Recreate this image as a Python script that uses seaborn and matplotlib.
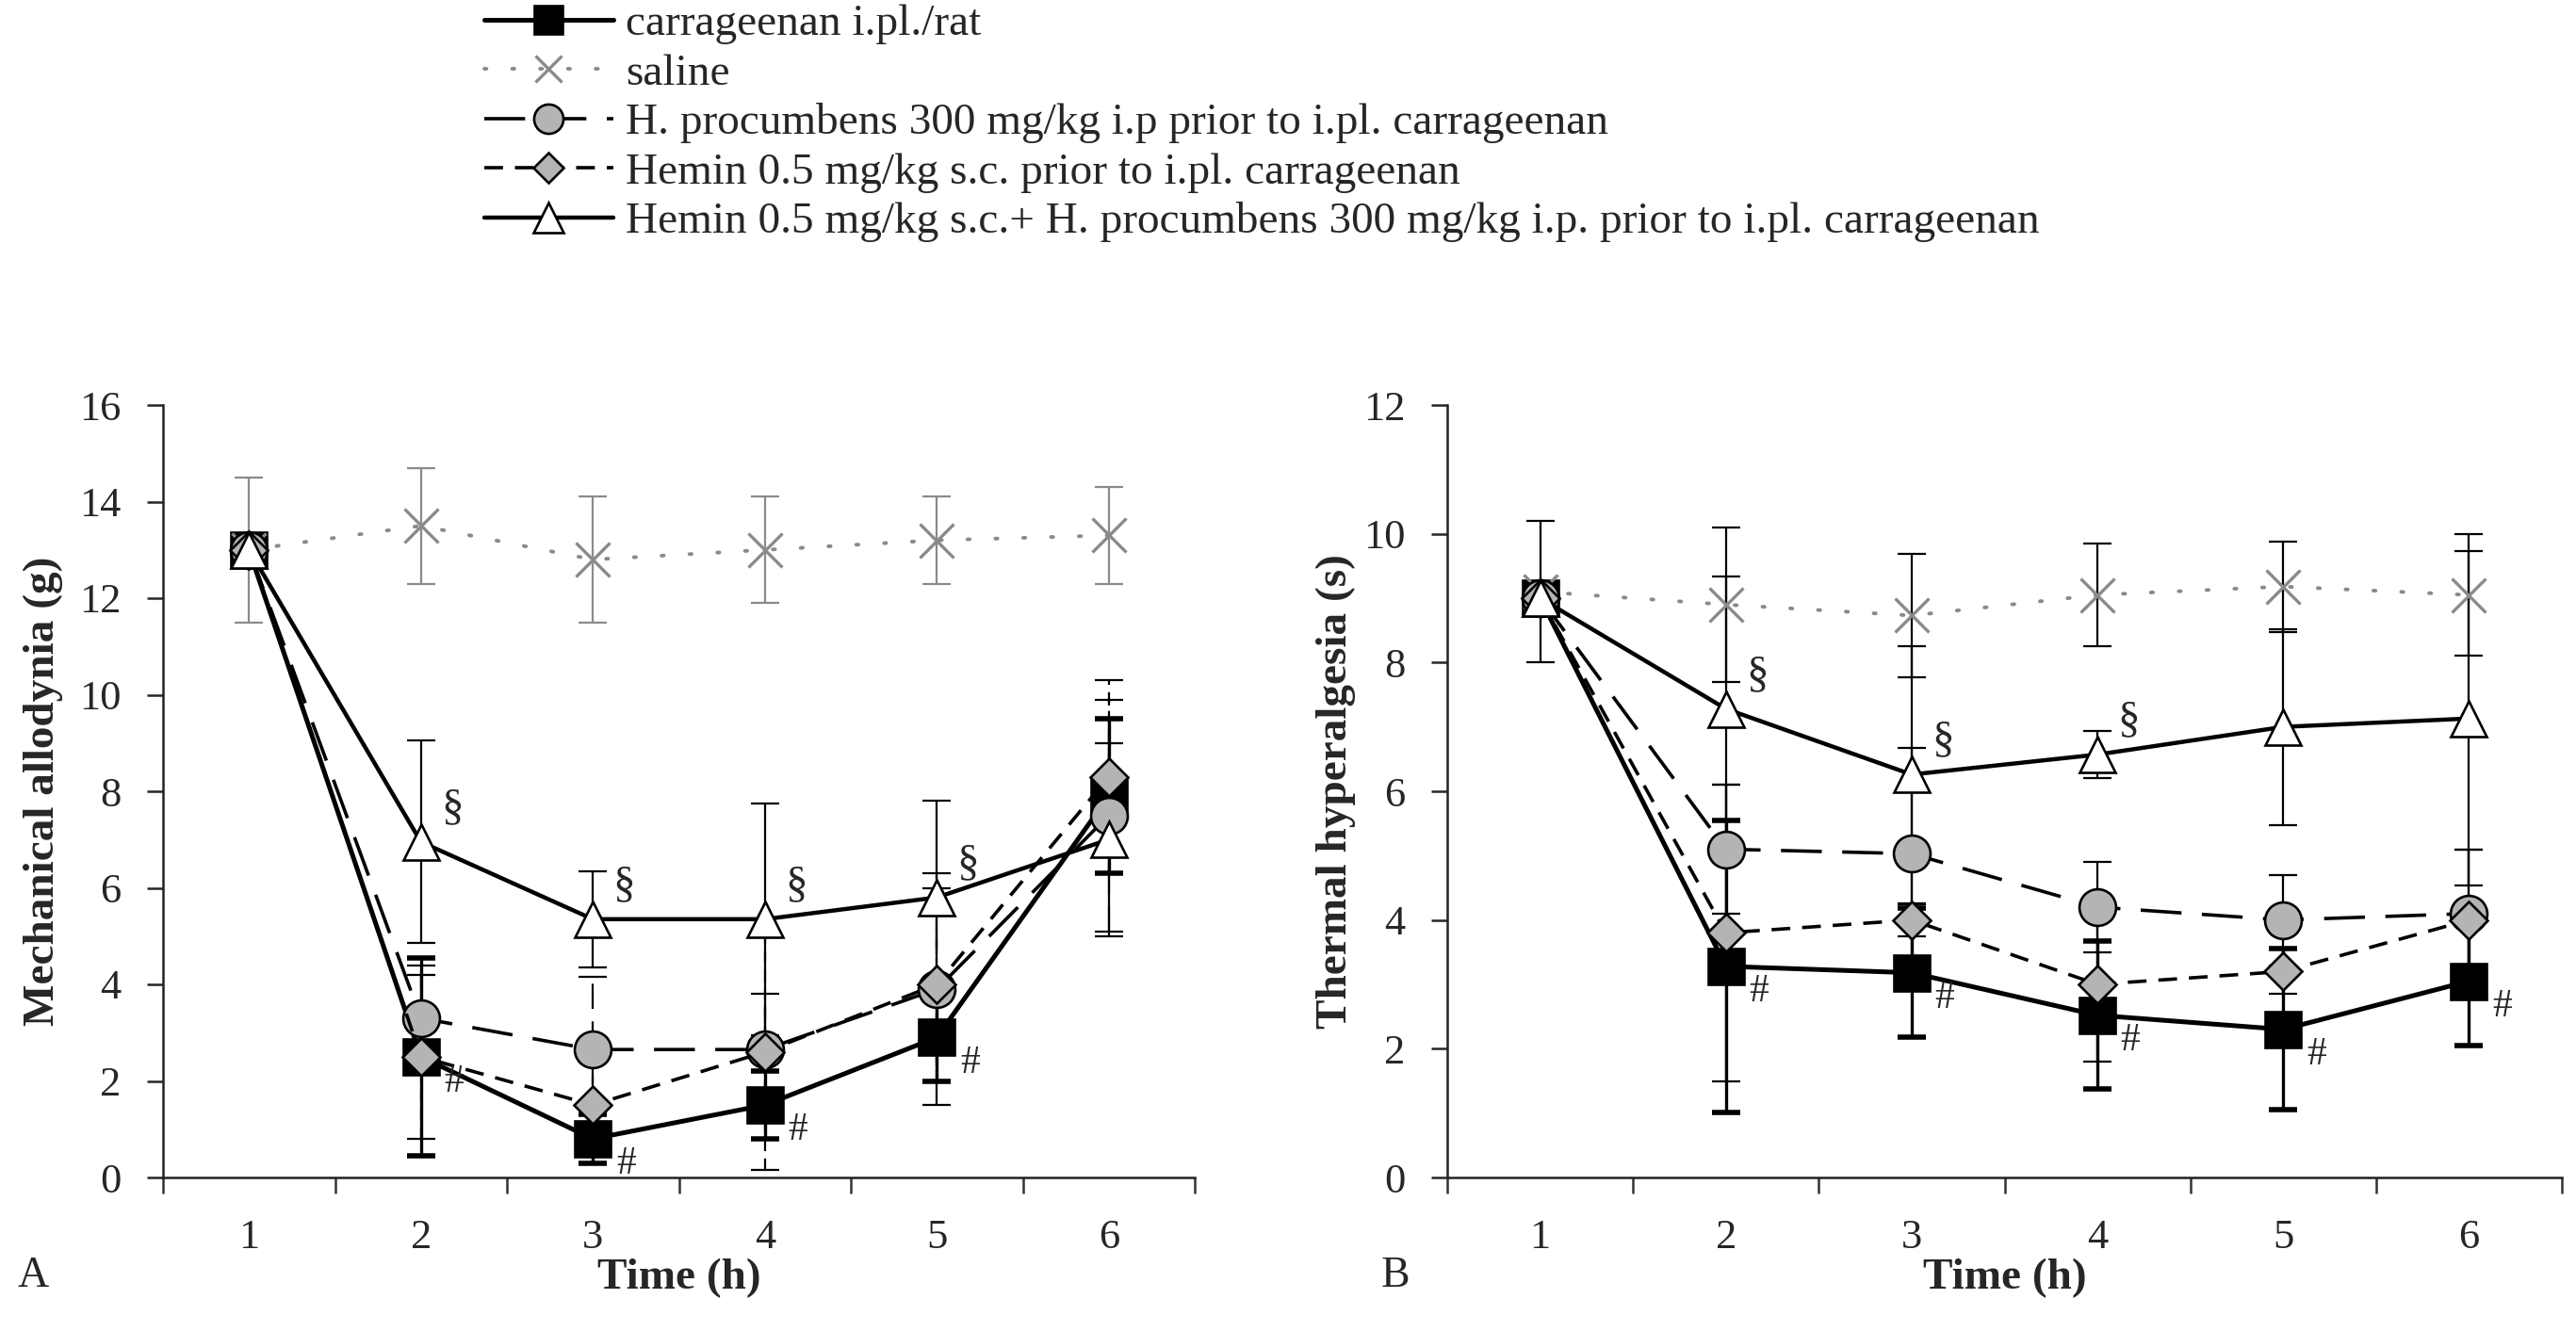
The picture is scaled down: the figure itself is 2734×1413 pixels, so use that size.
import numpy as np
import pandas as pd
import matplotlib
matplotlib.use('Agg')
import matplotlib.pyplot as plt
import seaborn as sns

# time points (h)
time = [1, 2, 3, 4, 5, 6]

# panel A - mechanical allodynia (g)
mech_carr = [13.0, 2.5, 0.8, 1.5, 2.9, 7.9]
mech_carr_err = [0.0, 2.05, 0.5, 0.7, 0.9, 1.6]
mech_saline = [13.0, 13.5, 12.8, 13.0, 13.2, 13.3]
mech_saline_err = [1.5, 1.2, 1.3, 1.1, 0.9, 1.0]
mech_hp = [13.0, 3.3, 2.65, 2.65, 3.9, 7.5]
mech_hp_err = [0.0, 1.1, 1.5, 1.15, 2.4, 2.4]
mech_hemin = [13.0, 2.5, 1.5, 2.6, 4.0, 8.3]
mech_hemin_err = [0.0, 1.7, 1.2, 2.45, 2.0, 2.0]
mech_combo = [13.0, 6.95, 5.35, 5.35, 5.8, 7.0]
mech_combo_err = [0.0, 2.1, 1.0, 2.4, 2.0, 2.0]

# panel B - thermal hyperalgesia (s)
therm_carr = [9.0, 3.28, 3.18, 2.52, 2.3, 3.05]
therm_carr_err = [0.0, 2.27, 1.0, 1.15, 1.25, 1.0]
therm_saline = [9.1, 8.9, 8.73, 9.05, 9.18, 9.05]
therm_saline_err = [1.1, 1.2, 0.96, 0.8, 0.7, 0.95]
therm_hp = [9.0, 5.1, 5.03, 4.2, 4.0, 4.1]
therm_hp_err = [0.0, 1.0, 1.64, 0.7, 0.7, 1.0]
therm_hemin = [9.0, 3.8, 4.0, 3.0, 3.2, 4.0]
therm_hemin_err = [0.0, 2.3, 0.25, 1.2, 0.35, 1.1]
therm_combo = [9.0, 7.28, 6.26, 6.57, 7.0, 7.13]
therm_combo_err = [0.0, 2.05, 2.0, 0.37, 1.52, 2.6]

labels = ['carrageenan i.pl./rat',
          'saline',
          'H. procumbens 300 mg/kg i.p prior to i.pl. carrageenan',
          'Hemin 0.5 mg/kg s.c. prior to i.pl. carrageenan',
          'Hemin 0.5 mg/kg s.c.+ H. procumbens 300 mg/kg i.p. prior to i.pl. carrageenan']

# significance marks: which time points get '#' (carrageenan) and '§' (combination)
mech_hash = [2, 3, 4, 5]
mech_sect = [2, 3, 4, 5]
therm_hash = [2, 3, 4, 5, 6]
therm_sect = [2, 3, 4]

sns.set_style('ticks')
plt.rcParams['font.family'] = ['Liberation Serif', 'DejaVu Serif']

GRAY = '#8a8a8a'
FILL = '#b4b4b4'

# style for each series
styles = [
    dict(linestyle='-', marker='s', markersize=27, markerfacecolor='black', color='black', linewidth=3.6),
    dict(linestyle=(0, (0.6, 7)), marker='x', markersize=26, markerfacecolor=GRAY, color=GRAY, linewidth=2.8),
    dict(linestyle=(0, (12, 6)), marker='o', markersize=28, markerfacecolor=FILL, color='black', linewidth=2.6),
    dict(linestyle=(0, (5.5, 3.5)), marker='D', markersize=20, markerfacecolor=FILL, color='black', linewidth=2.6),
    dict(linestyle='-', marker='^', markersize=28, markerfacecolor='white', color='black', linewidth=3.2),
]


def draw_panel(ax, series, errs, ymax, hash_pts, sect_pts, err_color_saline, dashed_err):
    for i, (vals, err) in enumerate(zip(series, errs)):
        st = styles[i]
        ecol = err_color_saline if i == 1 else 'black'
        thick = 4.0 if i == 0 else 1.6
        eb = ax.errorbar(time, vals, yerr=err, fmt='none', ecolor=ecol,
                         elinewidth=1.6 if i != 0 else 2.4, capsize=11, capthick=thick, zorder=1.5)
        if dashed_err and i in (2, 3):
            eb[2][0].set_linestyle(st['linestyle'])
        sns.lineplot(x=time, y=vals, ax=ax, sort=False, errorbar=None,
                     color=st['color'], linestyle=st['linestyle'], linewidth=st['linewidth'],
                     marker=st['marker'], markersize=st['markersize'],
                     markerfacecolor=st['markerfacecolor'],
                     markeredgecolor=GRAY if i == 1 else 'black',
                     markeredgewidth=2.4 if i == 1 else 1.9,
                     dash_capstyle='round' if i == 1 else 'butt',
                     label=labels[i], zorder=3 + i * 0.1)
    if ax.get_legend() is not None:
        ax.get_legend().remove()

    carr, combo = series[0], series[4]
    for t in hash_pts:
        ax.annotate('#', (t, carr[t - 1]), xytext=(35, -27), textcoords='offset pixels',
                    ha='center', va='center', fontsize=30, zorder=6)
    for t in sect_pts:
        ax.annotate('§', (t, combo[t - 1]), xytext=(33, 36), textcoords='offset pixels',
                    ha='center', va='center', fontsize=34, zorder=6)

    ax.set_xlim(0.5, 6.5)
    ax.set_ylim(0, ymax)
    ax.set_yticks(np.arange(0, ymax + 1, 2))
    ax.set_xticks(np.arange(0.5, 7, 1))
    ax.set_xticklabels([])
    ax.set_xticks(time, minor=True)
    ax.set_xticklabels([str(t) for t in time], minor=True)
    ax.tick_params(axis='x', which='major', length=12, width=1.8, direction='out', color='#333333')
    ax.tick_params(axis='x', which='minor', length=0, pad=32, labelsize=32)
    ax.tick_params(axis='y', length=12, width=1.8, direction='out', pad=20, labelsize=32)
    for s in ['top', 'right']:
        ax.spines[s].set_visible(False)
    for s in ['left', 'bottom']:
        ax.spines[s].set_linewidth(1.8)
        ax.spines[s].set_color('#222222')
    ax.set_xlabel('Time (h)', fontsize=34, fontweight='bold')


fig = plt.figure(figsize=(27.34, 14.13), dpi=100)
axA = fig.add_axes([173 / 2734, 1 - 1250 / 1413, 1095 / 2734, 820 / 1413])
axB = fig.add_axes([1536 / 2734, 1 - 1250 / 1413, 1183 / 2734, 820 / 1413])

draw_panel(axA,
           [mech_carr, mech_saline, mech_hp, mech_hemin, mech_combo],
           [mech_carr_err, mech_saline_err, mech_hp_err, mech_hemin_err, mech_combo_err],
           16, mech_hash, mech_sect, GRAY, True)
draw_panel(axB,
           [therm_carr, therm_saline, therm_hp, therm_hemin, therm_combo],
           [therm_carr_err, therm_saline_err, therm_hp_err, therm_hemin_err, therm_combo_err],
           12, therm_hash, therm_sect, 'black', False)

axA.set_ylabel('Mechanical allodynia (g)', fontsize=34, fontweight='bold')
axB.set_ylabel('Thermal hyperalgesia (s)', fontsize=34, fontweight='bold')
axA.yaxis.set_label_coords(-0.097, 0.5)
axB.yaxis.set_label_coords(-0.082, 0.5)
axA.xaxis.set_label_coords(0.5, -0.105)
axB.xaxis.set_label_coords(0.5, -0.105)

fig.text(35 / 2734, 1 - 1355 / 1413, 'A', fontsize=33, ha='center', va='center')
fig.text(1481 / 2734, 1 - 1355 / 1413, 'B', fontsize=33, ha='center', va='center')

handles, labs = axA.get_legend_handles_labels()
fig.legend(handles, labs, loc='upper left', bbox_to_anchor=(514 / 2734, 0.997),
           frameon=False, fontsize=34, handlelength=2.9, handletextpad=0.28,
           labelspacing=0.2, borderpad=0, borderaxespad=0, markerscale=0.8)

fig.savefig('out.png', dpi=100)
